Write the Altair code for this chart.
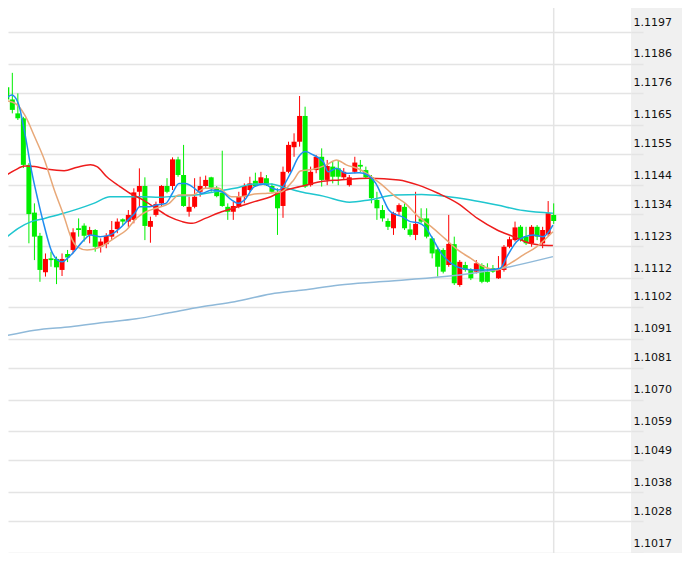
import altair as alt
import pandas as pd

# ---- candle data ----
opens = [1.11779, 1.11737, 1.11689, 1.11672, 1.11511, 1.11346, 1.11266, 1.11140, 1.11188, 1.11186,
         1.11148, 1.11203, 1.11217, 1.11292, 1.11301, 1.11269, 1.11286, 1.11228, 1.11237, 1.11263,
         1.11289, 1.11323, 1.11315, 1.11321, 1.11418, 1.11438, 1.11297, 1.11338, 1.11378, 1.11438,
         1.11438, 1.11530, 1.11476, 1.11349, 1.11366, 1.11418, 1.11438, 1.11468, 1.11432, 1.11415,
         1.11366, 1.11349, 1.11366, 1.11401, 1.11424, 1.11456, 1.11447, 1.11465, 1.11438, 1.11418,
         1.11369, 1.11487, 1.11572, 1.11591, 1.11680, 1.11441, 1.11493, 1.11539, 1.11459, 1.11505,
         1.11499, 1.11468, 1.11441, 1.11487, 1.11511, 1.11493, 1.11468, 1.11390, 1.11355, 1.11317,
         1.11292, 1.11349, 1.11366, 1.11288, 1.11269, 1.11326, 1.11326, 1.11257, 1.11219, 1.11217,
         1.11165, 1.11237, 1.11096, 1.11165, 1.11148, 1.11142, 1.11165, 1.11142, 1.11154, 1.11119,
         1.11148, 1.11228, 1.11251, 1.11297, 1.11263, 1.11240, 1.11297, 1.11240, 1.11272, 1.11338]
closes = [1.11737, 1.11701, 1.11672, 1.11511, 1.11341, 1.11263, 1.11148, 1.11186, 1.11182, 1.11157,
          1.11186, 1.11191, 1.11278, 1.11286, 1.11266, 1.11286, 1.11228, 1.11246, 1.11266, 1.11286,
          1.11315, 1.11315, 1.11338, 1.11416, 1.11438, 1.11300, 1.11317, 1.11376, 1.11438, 1.11418,
          1.11530, 1.11476, 1.11369, 1.11366, 1.11401, 1.11438, 1.11459, 1.11432, 1.11403, 1.11369,
          1.11349, 1.11369, 1.11401, 1.11438, 1.11447, 1.11438, 1.11468, 1.11441, 1.11418, 1.11361,
          1.11487, 1.11580, 1.11591, 1.11680, 1.11436, 1.11487, 1.11539, 1.11459, 1.11507, 1.11470,
          1.11470, 1.11487, 1.11468, 1.11519, 1.11505, 1.11468, 1.11396, 1.11361, 1.11326, 1.11297,
          1.11344, 1.11372, 1.11292, 1.11269, 1.11307, 1.11315, 1.11263, 1.11205, 1.11159, 1.11142,
          1.11238, 1.11102, 1.11176, 1.11148, 1.11119, 1.11171, 1.11107, 1.11107, 1.11142, 1.11148,
          1.11228, 1.11254, 1.11295, 1.11251, 1.11240, 1.11297, 1.11263, 1.11286, 1.11344, 1.11317]
highs = [1.11850, 1.11829, 1.11758, 1.11677, 1.11517, 1.11378, 1.11276, 1.11205, 1.11211, 1.11194,
         1.11205, 1.11217, 1.11292, 1.11326, 1.11309, 1.11297, 1.11289, 1.11257, 1.11275, 1.11317,
         1.11326, 1.11326, 1.11355, 1.11430, 1.11499, 1.11468, 1.11332, 1.11384, 1.11441, 1.11465,
         1.11537, 1.11539, 1.11580, 1.11401, 1.11465, 1.11470, 1.11474, 1.11470, 1.11438, 1.11560,
         1.11378, 1.11384, 1.11418, 1.11447, 1.11470, 1.11484, 1.11487, 1.11476, 1.11447, 1.11430,
         1.11505, 1.11591, 1.11620, 1.11749, 1.11712, 1.11505, 1.11545, 1.11568, 1.11528, 1.11522,
         1.11528, 1.11500, 1.11476, 1.11539, 1.11528, 1.11505, 1.11476, 1.11418, 1.11372, 1.11326,
         1.11349, 1.11378, 1.11378, 1.11309, 1.11418, 1.11361, 1.11361, 1.11263, 1.11228, 1.11223,
         1.11338, 1.11263, 1.11182, 1.11176, 1.11154, 1.11182, 1.11171, 1.11171, 1.11165, 1.11196,
         1.11234, 1.11263, 1.11315, 1.11303, 1.11297, 1.11303, 1.11303, 1.11297, 1.11386, 1.11378]
lows = [1.11729, 1.11689, 1.11666, 1.11500, 1.11240, 1.11182, 1.11107, 1.11125, 1.11159, 1.11099,
        1.11127, 1.11175, 1.11205, 1.11263, 1.11246, 1.11240, 1.11211, 1.11208, 1.11223, 1.11251,
        1.11275, 1.11303, 1.11297, 1.11309, 1.11366, 1.11251, 1.11242, 1.11332, 1.11366, 1.11413,
        1.11424, 1.11470, 1.11366, 1.11332, 1.11361, 1.11401, 1.11430, 1.11418, 1.11399, 1.11366,
        1.11321, 1.11321, 1.11361, 1.11378, 1.11418, 1.11436, 1.11441, 1.11438, 1.11413, 1.11269,
        1.11328, 1.11482, 1.11539, 1.11574, 1.11431, 1.11436, 1.11482, 1.11436, 1.11441, 1.11447,
        1.11441, 1.11459, 1.11436, 1.11482, 1.11487, 1.11465, 1.11378, 1.11321, 1.11315, 1.11286,
        1.11269, 1.11338, 1.11286, 1.11263, 1.11251, 1.11309, 1.11257, 1.11188, 1.11125, 1.11136,
        1.11159, 1.11096, 1.11090, 1.11142, 1.11113, 1.11136, 1.11102, 1.11104, 1.11138, 1.11117,
        1.11142, 1.11223, 1.11246, 1.11246, 1.11234, 1.11228, 1.11251, 1.11223, 1.11265, 1.11307]

# ---- moving-average lines (bar index, price) ----
blue_i = [0.70, 1.89, 3.07, 4.26, 5.45, 6.63, 7.82, 9.02, 10.19, 11.08, 11.97, 13.17, 14.95, 16.14,
          17.92, 19.70, 21.48, 22.96, 24.16, 25.05, 26.83, 28.0, 29.79, 30.98, 32.17, 33.35, 34.54,
          36.32, 38.1, 39.89, 41.67, 42.86, 44.03, 45.82, 47.6, 49.09, 50.27, 52.35, 53.83, 55.03,
          56.50, 58.29, 59.17, 60.67, 62.45, 64.82, 66.30, 67.8, 68.97, 70.16, 71.36, 72.54, 74.03,
          75.51, 76.70, 77.88, 79.66, 81.44, 83.22, 85.61, 87.98, 90.35, 91.54, 93.32, 94.80, 96.30,
          98.08, 99.86]
blue_v = [1.11737, 1.11752, 1.11724, 1.11621, 1.11493, 1.11390, 1.11297, 1.11217, 1.11182, 1.11176,
          1.11188, 1.11211, 1.11251, 1.11269, 1.11263, 1.11269, 1.11292, 1.11321, 1.11344, 1.11366,
          1.11366, 1.11372, 1.11378, 1.11413, 1.11447, 1.11447, 1.11436, 1.11413, 1.11424, 1.11418,
          1.11390, 1.11378, 1.11390, 1.11436, 1.11445, 1.11430, 1.11424, 1.11482, 1.11539, 1.11557,
          1.11545, 1.11522, 1.11487, 1.11499, 1.11482, 1.11484, 1.11476, 1.11447, 1.11401, 1.11355,
          1.11340, 1.11332, 1.11315, 1.11311, 1.11297, 1.11263, 1.11205, 1.11171, 1.11154, 1.11148,
          1.11148, 1.11154, 1.11194, 1.11246, 1.11263, 1.11269, 1.11263, 1.11303]

tan_i = [0.70, 2.48, 4.26, 6.04, 7.82, 9.60, 11.38, 12.58, 13.75, 15.54, 17.32, 19.1, 20.88, 22.66,
         24.44, 26.22, 28.0, 30.39, 32.17, 34.54, 36.91, 39.30, 41.67, 43.45, 45.82, 48.20, 50.57,
         52.94, 54.14, 56.50, 58.89, 60.67, 62.45, 64.82, 66.6, 68.97, 71.36, 73.14, 75.51, 77.88,
         80.27, 82.63, 85.0, 87.39, 89.76, 92.13, 94.52, 96.89, 99.86]
tan_v = [1.11733, 1.11724, 1.11683, 1.11608, 1.11528, 1.11424, 1.11332, 1.11263, 1.11228, 1.11217,
         1.11223, 1.11240, 1.11263, 1.11286, 1.11326, 1.11349, 1.11361, 1.11378, 1.11407, 1.11407,
         1.11430, 1.11430, 1.11401, 1.11401, 1.11410, 1.11413, 1.11417, 1.11459, 1.11490, 1.11496,
         1.11511, 1.11528, 1.11511, 1.11496, 1.11476, 1.11441, 1.11401, 1.11378, 1.11332, 1.11297,
         1.11257, 1.11217, 1.11188, 1.11159, 1.11148, 1.11171, 1.11200, 1.11228, 1.11280]

red_i = [0.70, 2.48, 4.26, 6.04, 8.41, 11.38, 13.75, 16.14, 17.32, 19.1, 21.48, 23.27, 25.64, 28.0,
         30.39, 32.76, 34.54, 36.91, 39.89, 42.86, 45.82, 48.79, 50.57, 54.14, 57.70, 61.26, 66.6,
         71.95, 75.51, 79.07, 82.63, 86.2, 89.76, 92.73, 95.69, 97.48, 99.86]
red_v = [1.11473, 1.11493, 1.11507, 1.11505, 1.11496, 1.11491, 1.11503, 1.11511, 1.11505, 1.11470,
         1.11436, 1.11413, 1.11390, 1.11361, 1.11332, 1.11315, 1.11309, 1.11326, 1.11349, 1.11366,
         1.11384, 1.11401, 1.11418, 1.11436, 1.11453, 1.11459, 1.11465, 1.11459, 1.11441, 1.11413,
         1.11378, 1.11326, 1.11286, 1.11263, 1.11240, 1.11234, 1.11232]

cyan_i = [0.70, 3.07, 5.45, 7.82, 10.80, 13.75, 16.73, 19.70, 22.66, 25.64, 28.61, 31.57, 35.13,
          38.69, 42.25, 45.82, 48.79, 50.93, 54.14, 58.29, 63.04, 66.6, 71.36, 76.1, 80.27, 85.0,
          89.76, 94.52, 99.86]
cyan_v = [1.11257, 1.11292, 1.11315, 1.11326, 1.11341, 1.11358, 1.11378, 1.11401, 1.11401, 1.11401,
          1.11399, 1.11403, 1.11407, 1.11418, 1.11430, 1.11445, 1.11445, 1.11435, 1.11418, 1.11403,
          1.11382, 1.11390, 1.11407, 1.11409, 1.11403, 1.11390, 1.11372, 1.11353, 1.11344]

long_i = [0.70, 6.04, 12.58, 18.51, 24.44, 30.39, 36.32, 42.25, 48.79, 54.67, 61.26, 68.38, 80.27,
          89.17, 99.86]
long_v = [1.10920, 1.10940, 1.10952, 1.10966, 1.10979, 1.11000, 1.11021, 1.11038, 1.11065, 1.11079,
          1.11096, 1.11107, 1.11125, 1.11148, 1.11194]

tick_values = [1.1197, 1.1186, 1.1176, 1.1165, 1.1155, 1.1144, 1.1134, 1.1123, 1.1112,
               1.1102, 1.1091, 1.1081, 1.1070, 1.1059, 1.1049, 1.1038, 1.1028, 1.1017]

idx = list(range(1, len(opens) + 1))
candles = pd.DataFrame({"i": idx, "open": opens, "close": closes, "high": highs, "low": lows})
candles["side"] = ["up" if c > o else "down" for o, c in zip(opens, closes)]

xs = alt.Scale(domain=[2.122, 113.09], nice=False, zero=False)
ys = alt.Scale(domain=[1.1017, 1.12053], nice=False, zero=False)
cs = alt.Scale(domain=["up", "down"], range=["#ff0000", "#00ee00"])

yaxis = alt.Axis(orient="right", values=tick_values, format=".4f", title=None,
                 grid=True, gridColor="#e4e4e4", gridWidth=1.5,
                 domain=False, ticks=True, tickColor="#e4e4e4", tickWidth=1.5, tickSize=12,
                 labelPadding=-10, labelOffset=-10, labelAlign="left",
                 labelFont="DejaVu Sans", labelFontSize=11, labelColor="#111111")

X = alt.X("i:Q", scale=xs, axis=None)

now_rule = alt.Chart(pd.DataFrame({"i": [idx[-1]]})).mark_rule(
    color="#e4e4e4", strokeWidth=1.5).encode(x=X)

wicks = alt.Chart(candles).mark_rule(strokeWidth=1, clip=True).encode(
    x=X,
    y=alt.Y("low:Q", scale=ys, axis=yaxis),
    y2="high:Q",
    color=alt.Color("side:N", scale=cs, legend=None),
)
bodies = alt.Chart(candles).mark_bar(size=5, clip=True).encode(
    x=X,
    y=alt.Y("open:Q", scale=ys, axis=yaxis),
    y2="close:Q",
    color=alt.Color("side:N", scale=cs, legend=None),
)


def ma_line(xi, vals, color):
    d = pd.DataFrame({"i": xi, "v": vals})
    return alt.Chart(d).mark_line(color=color, strokeWidth=1.5, interpolate="monotone",
                                  clip=True).encode(
        x=X, y=alt.Y("v:Q", scale=ys, axis=yaxis))


chart = alt.layer(
    now_rule, wicks, bodies,
    ma_line(long_i, long_v, "#8fb9d9"),
    ma_line(cyan_i, cyan_v, "#1fc6cf"),
    ma_line(red_i, red_v, "#ee1c1c"),
    ma_line(tan_i, tan_v, "#e8a878"),
    ma_line(blue_i, blue_v, "#1e8cf0"),
).properties(
    width=623, height=545,
    background="#f0f0f0",
    padding={"left": 0, "top": 0, "right": 51, "bottom": 0},
    autosize=alt.AutoSizeParams(type="none"),
).configure_view(fill="white", stroke=None)

chart.save("out.html", embed_options={"renderer": "svg", "actions": False})
